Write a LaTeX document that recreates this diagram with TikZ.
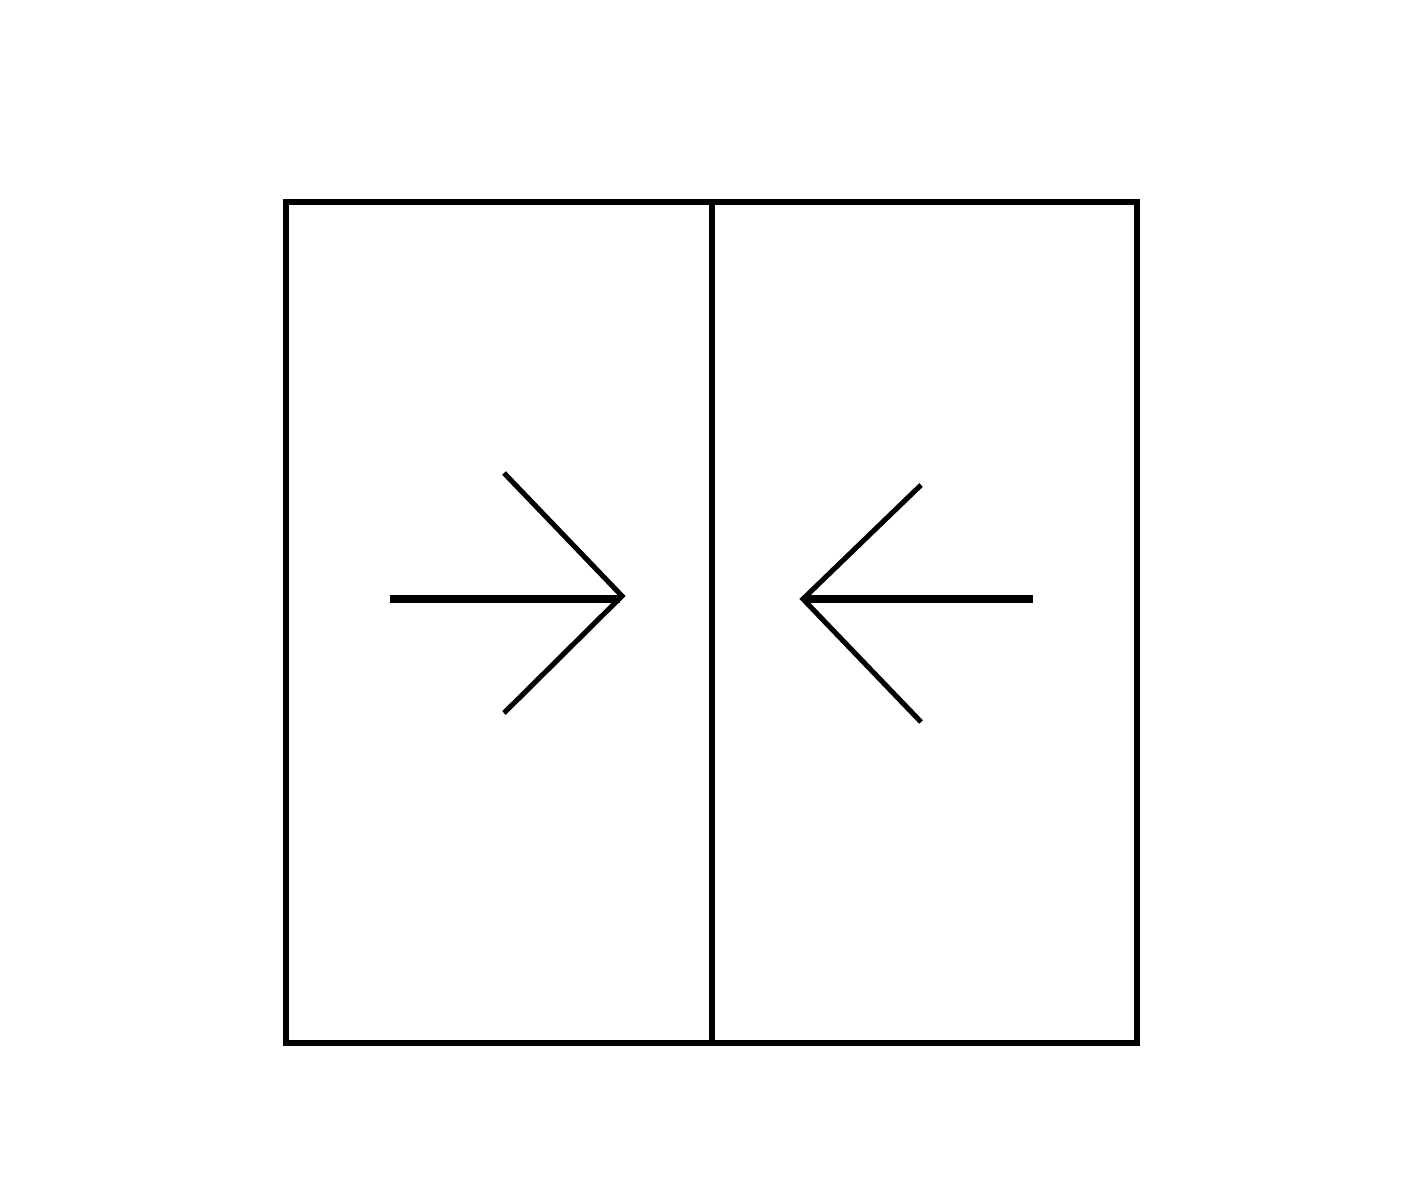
\documentclass[tikz,border=0pt]{standalone}
\begin{document}
\begin{tikzpicture}[x=0.01cm,y=-0.01cm,
  frame/.style={line width=1.45pt, line join=miter},
  shaft/.style={line width=2.3pt},
  barb/.style={line width=1.45pt}]
\useasboundingbox (0,0) rectangle (1425,1200);
\draw[frame] (286,202) rectangle (1137,1043);
\draw[frame] (712,202) -- (712,1043);
% left arrow
\draw[shaft] (390,599) -- (620,599);
\draw[barb] (504,473) -- (622,596) -- (504,713);
% right arrow
\draw[shaft] (1033,599) -- (805,599);
\draw[barb] (921,485) -- (803,599) -- (921,722);
\end{tikzpicture}
\end{document}
